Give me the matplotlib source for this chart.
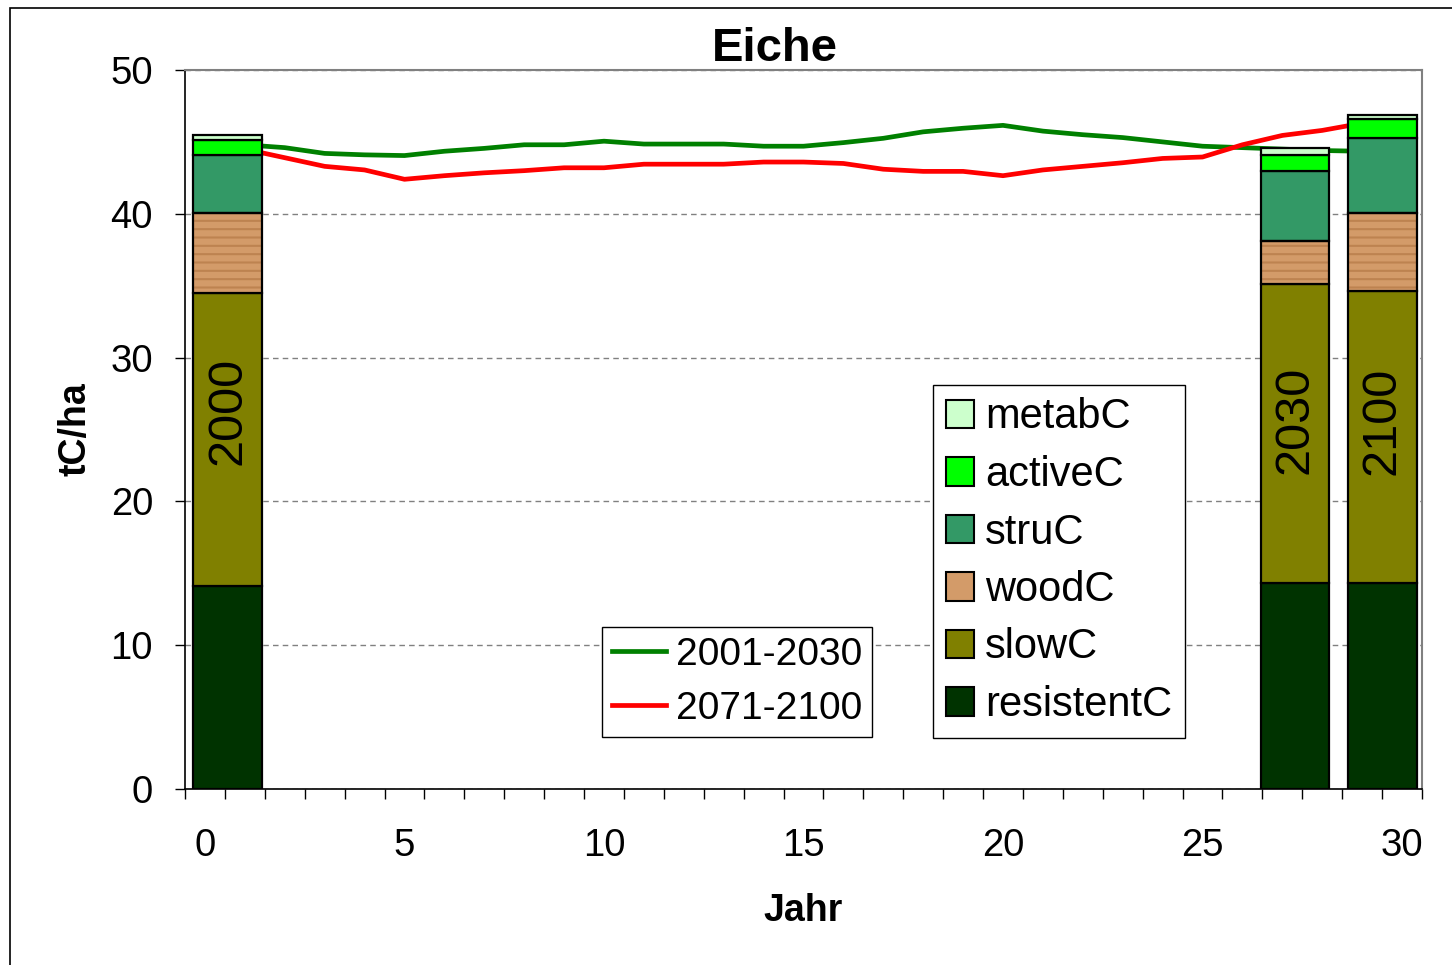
import numpy as np
import matplotlib.pyplot as plt
from matplotlib.patches import Rectangle
from matplotlib.lines import Line2D

plt.rcParams['font.family'] = ['Liberation Sans', 'DejaVu Sans']
plt.rcParams['hatch.linewidth'] = 1.5

# carbon pools, bottom to top
pools = ['resistentC', 'slowC', 'woodC', 'struC', 'activeC', 'metabC']
pool_colors = ['#003300', '#808000', '#D39B69', '#339966', '#00FF00', '#CCFFCC']

bar_labels = ['2000', '2030', '2100']
bar_pos = [0.57, 27.32, 29.51]
resistentC = [14.1, 14.3, 14.3]
slowC = [20.4, 20.8, 20.3]
woodC = [5.55, 3.0, 5.45]
struC = [4.05, 4.9, 5.25]
activeC = [1.0, 1.1, 1.3]
metabC = [0.4, 0.5, 0.3]
pool_values = [resistentC, slowC, woodC, struC, activeC, metabC]

# yearly total C of the two simulation periods
years = np.arange(1, 30)
c_2001_2030 = [44.8, 44.6, 44.2, 44.1, 44.05, 44.35, 44.55, 44.8, 44.8, 45.05,
               44.85, 44.85, 44.85, 44.7, 44.7, 44.95, 45.25, 45.7, 45.95, 46.15,
               45.75, 45.5, 45.3, 45.0, 44.7, 44.6, 44.5, 44.4, 44.35]
c_2071_2100 = [44.5, 43.9, 43.3, 43.05, 42.4, 42.65, 42.85, 43.0, 43.2, 43.2,
               43.45, 43.45, 43.45, 43.6, 43.6, 43.5, 43.1, 42.95, 42.95, 42.65,
               43.05, 43.3, 43.55, 43.85, 43.95, 44.8, 45.45, 45.8, 46.3]

fig = plt.figure(figsize=(14.52, 9.65), dpi=100)
ax = fig.add_axes([185/1452, 1-789/965, (1422-185)/1452, (789-70)/965])

ax.plot(years, c_2001_2030, color='#008000', lw=3.4, zorder=2)
ax.plot(years, c_2071_2100, color='#FF0000', lw=3.4, zorder=2)

bottom = np.zeros(len(bar_pos))
for name, vals, col in zip(pools, pool_values, pool_colors):
    if name == 'woodC':
        ax.bar(bar_pos, vals, width=1.72, bottom=bottom, color=col,
               edgecolor='#BD8350', linewidth=0, hatch='--', zorder=3)
        ax.bar(bar_pos, vals, width=1.72, bottom=bottom, fill=False,
               edgecolor='black', linewidth=1.6, zorder=4)
    else:
        ax.bar(bar_pos, vals, width=1.72, bottom=bottom, color=col,
               edgecolor='black', linewidth=1.6, zorder=3)
    bottom += np.array(vals)

label_y = [26.3, 25.7, 25.6]
for x, y, t in zip(bar_pos, label_y, bar_labels):
    ax.text(x, y, t, rotation=90, ha='center', va='center', fontsize=35, zorder=5)

ax.set_xlim(-0.5, 30.5)
ax.set_ylim(0, 50)
ax.set_xticks(range(0, 31, 5))
ax.set_xticks(np.arange(-0.5, 31, 1), minor=True)
ax.tick_params(axis='x', which='major', length=0, pad=28, labelsize=27.5)
ax.tick_params(axis='x', which='minor', length=7, width=1, direction='out')
ax.set_yticks(range(0, 51, 10))
ax.tick_params(axis='y', length=7, width=1, pad=16, labelsize=27.5)

ax.yaxis.grid(True, linestyle=(0, (4, 3)), color='#808080', lw=1)
ax.set_axisbelow(True)
for s in ['top', 'right']:
    ax.spines[s].set_color('#808080')
    ax.spines[s].set_linewidth(1.5)
for s in ['left', 'bottom']:
    ax.spines[s].set_color('black')
    ax.spines[s].set_linewidth(1.2)

ax.set_xlabel('Jahr', fontsize=27, fontweight='bold', labelpad=21)
ax.set_ylabel('tC/ha', fontsize=27, fontweight='bold', labelpad=12)
fig.text(775/1452, 1-61/965, 'Eiche', fontsize=34, fontweight='bold',
         ha='center', va='baseline')

# legends
pool_handles = [Rectangle((0, 0), 1, 1, facecolor=c, edgecolor='black', lw=1.5)
                for c in pool_colors][::-1]
leg1 = ax.legend(pool_handles, pools[::-1], loc='upper left',
                 bbox_to_anchor=(933/1452, 1-385/965), bbox_transform=fig.transFigure,
                 fontsize=30, frameon=True, fancybox=False, edgecolor='black',
                 framealpha=1, borderaxespad=0, borderpad=0.3, labelspacing=0.42,
                 handlelength=0.68, handleheight=0.68, handletextpad=0.27)
leg1.get_frame().set_linewidth(1)
ax.add_artist(leg1)

line_handles = [Line2D([], [], color='#008000', lw=3.4),
                Line2D([], [], color='#FF0000', lw=3.4)]
leg2 = ax.legend(line_handles, ['2001-2030', '2071-2100'], loc='upper left',
                 bbox_to_anchor=(602/1452, 1-627/965), bbox_transform=fig.transFigure,
                 fontsize=28, frameon=True, fancybox=False, edgecolor='black',
                 framealpha=1, borderaxespad=0, borderpad=0.25, labelspacing=0.47,
                 handlelength=1.4, handletextpad=0.25)
leg2.get_frame().set_linewidth(1)

fig.patches.append(Rectangle((10/1452, -0.05), 1.2, 1 - 8/965 + 0.05,
                             transform=fig.transFigure, fill=False,
                             edgecolor='black', lw=1.2))

fig.savefig('out.png', dpi=100)
